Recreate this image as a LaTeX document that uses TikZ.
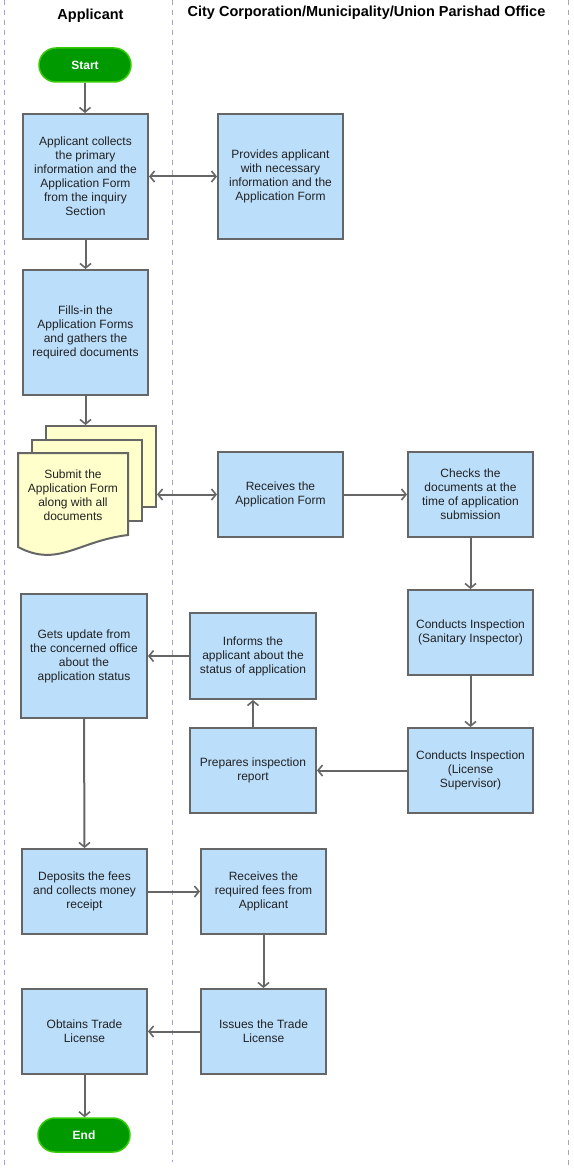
\documentclass[tikz,border=0pt]{standalone}
\usepackage{fontspec}
\setmainfont{Liberation Sans}
\usetikzlibrary{arrows.meta}
\definecolor{boxfill}{HTML}{BBDEFB}
\definecolor{boxline}{HTML}{666666}
\definecolor{docfill}{HTML}{FFFFCC}
\definecolor{termfill}{HTML}{009900}
\definecolor{termline}{HTML}{33CC00}
\definecolor{lanecol}{HTML}{9FA6C8}
\definecolor{arrowcol}{HTML}{666666}
\definecolor{txtcol}{HTML}{222222}
\tikzset{
  box/.style={draw=boxline, fill=boxfill, line width=2pt, inner sep=0pt, align=center,
    text=txtcol, font=\fontsize{12}{14}\selectfont},
  docsheet/.style={draw=boxline, fill=docfill, line width=2pt, inner sep=0pt},
  term/.style={draw=termline, fill=termfill, line width=1.5pt, rounded corners=17pt,
    minimum width=92pt, minimum height=34pt, inner sep=0pt, text=white,
    font=\fontsize{12}{14}\selectfont\bfseries},
  lane/.style={draw=lanecol, line width=0.8pt, dash pattern=on 5pt off 5pt},
  conn/.style={draw=arrowcol, line width=2pt, -{Straight Barb[length=4.5pt,width=11pt,line width=1.6pt]}},
  dconn/.style={draw=arrowcol, line width=2pt, {Straight Barb[length=4.5pt,width=11pt,line width=1.6pt]}-{Straight Barb[length=4.5pt,width=11pt,line width=1.6pt]}},
  title/.style={font=\fontsize{14.5}{16}\selectfont\bfseries, text=black, inner sep=0pt}
}
\begin{document}
\begin{tikzpicture}[x=1pt,y=-1pt]
\useasboundingbox (0,0) rectangle (573,1169);
% lanes
\draw[lane] (4,0) -- (4,1169);
\draw[lane] (172,0) -- (172,1162);
\draw[lane] (568,0) -- (568,1169);
% titles
\node[title] (t1) at (90.5,16) {Applicant};
\node[title] (t2) at (366.5,13) {City Corporation/Municipality/Union Parishad Office};
% terminals
\node[term] (start) at (85,65) {Start};
\node[term] (end) at (84,1135) {End};
% boxes
\node[box, minimum width=125pt, minimum height=125pt] (A1) at (85.5,176.5)
  {Applicant collects\\the primary\\information and the\\Application Form\\from the inquiry\\Section};
\node[box, minimum width=125pt, minimum height=125pt] (B1) at (280.5,176.5)
  {Provides applicant\\with necessary\\information and the\\Application Form};
\node[box, minimum width=125pt, minimum height=125pt] (A2) at (85.5,332.5)
  {Fills-in the\\Application Forms\\and gathers the\\required documents};
% document stack
\node[docsheet, minimum width=110pt, minimum height=81pt] (Dback) at (101,466.5) {};
\node[docsheet, minimum width=110pt, minimum height=81pt] (Dmid) at (87,480.5) {};
\draw[docsheet] (18,453) -- (128,453) -- (128,535)
  .. controls (78,541) and (58,568) .. (18,547) -- cycle;
\node[align=center, text=txtcol, font=\fontsize{12}{14}\selectfont, inner sep=0pt] (D) at (73,495)
  {Submit the\\Application Form\\along with all\\documents};
\node[box, minimum width=125pt, minimum height=85pt] (B3) at (280.5,494.5)
  {Receives the\\Application Form};
\node[box, minimum width=125pt, minimum height=85pt] (C3) at (470.5,494.5)
  {Checks the\\documents at the\\time of application\\submission};
\node[box, minimum width=125pt, minimum height=85pt] (C4) at (470.5,632.5)
  {Conducts Inspection\\(Sanitary Inspector)};
\node[box, minimum width=125pt, minimum height=85pt] (C5) at (470.5,770.5)
  {Conducts Inspection\\(License\\Supervisor)};
\node[box, minimum width=126pt, minimum height=85pt] (B5) at (253,770.5)
  {Prepares inspection\\report};
\node[box, minimum width=126pt, minimum height=86pt] (B4) at (253,656)
  {Informs the\\applicant about the\\status of application};
\node[box, minimum width=126pt, minimum height=124pt] (A4) at (84,656)
  {Gets update from\\the concerned office\\about the\\application status};
\node[box, minimum width=125pt, minimum height=85pt] (A6) at (84.5,891.5)
  {Deposits the fees\\and collects money\\receipt};
\node[box, minimum width=125pt, minimum height=85pt] (B6) at (263.5,891.5)
  {Receives the\\required fees from\\Applicant};
\node[box, minimum width=125pt, minimum height=85pt] (A7) at (84.5,1031.5)
  {Obtains Trade\\License};
\node[box, minimum width=125pt, minimum height=85pt] (B7) at (263.5,1031.5)
  {Issues the Trade\\License};
% connectors
\draw[conn] (start.south) -- (start.south |- A1.north);
\draw[dconn] (A1.east) -- (B1.west);
\draw[conn] (A1.south) -- (A2.north);
\draw[conn] (A2.south) -- (A2.south |- Dback.north);
\draw[dconn] (B3.west -| Dback.east) -- (B3.west);
\draw[conn] (B3.east) -- (C3.west);
\draw[conn] (C3.south) -- (C4.north);
\draw[conn] (C4.south) -- (C5.north);
\draw[conn] (C5.west) -- (B5.east);
\draw[conn] (B5.north) -- (B4.south);
\draw[conn] (B4.west) -- (A4.east);
\draw[conn] (A4.south) -- (A6.north);
\draw[conn] (A6.east) -- (B6.west);
\draw[conn] (B6.south) -- (B7.north);
\draw[conn] (B7.west) -- (A7.east);
\draw[conn] (A7.south) -- (A7.south |- end.north);
\end{tikzpicture}
\end{document}
